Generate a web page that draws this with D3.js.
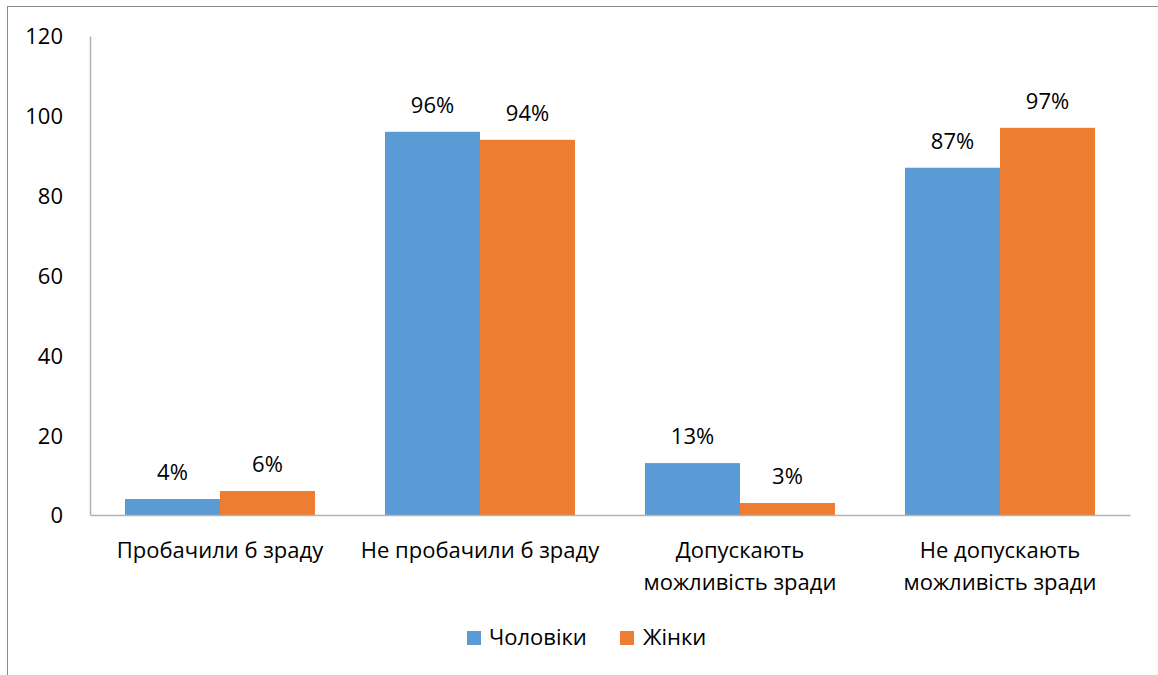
<!DOCTYPE html>
<html><head><meta charset="utf-8">
<script src="https://cdn.jsdelivr.net/npm/d3@7"></script>
<style>body{margin:0;background:#fff}svg{display:block}text{font-family:"Open Sans","Noto Sans",sans-serif;fill:#000}</style>
</head><body>
<script>
const categories = [["Пробачили б зраду"],["Не пробачили б зраду"],["Допускають","можливість зради"],["Не допускають","можливість зради"]];
const seriesNames = ["Чоловіки","Жінки"];
const men = [4, 96, 13, 87];
const women = [6, 94, 3, 97];
const yTicks = [0,20,40,60,80,100,120];
const colors = ["#5B9BD5","#ED7D31"];

(function(){
const W=1158,H=675,FS=22;
const svg=d3.select("body").append("svg").attr("width",W).attr("height",H);
svg.append("rect").attr("x",7.5).attr("y",6.5).attr("width",W+10).attr("height",H+10).attr("fill","none").attr("stroke","#8a8a8a").attr("stroke-width",1);
const pl=90,pr=1130,pt=36,pb=515;
const y=d3.scaleLinear().domain([0,120]).range([pb,pt]);
const x0=d3.scaleBand().domain(d3.range(4)).range([pl,pr]).paddingInner(0.2692).paddingOuter(0.1346);
const x1=d3.scaleBand().domain([0,1]).range([0,x0.bandwidth()]);
const series=[men,women];

const ya=svg.append("g").attr("transform",`translate(${pl},0)`).call(d3.axisLeft(y).tickValues(yTicks).tickSize(0).tickPadding(0));
ya.select(".domain").attr("stroke","#b3b3b3").attr("stroke-width",1.5);
ya.selectAll("text").attr("x",-27).attr("dy","0.36em").attr("font-size",FS).style("font-family",'"Open Sans","Noto Sans",sans-serif').attr("fill","#000");

categories.forEach((c,i)=>{
  series.forEach((s,j)=>{
    svg.append("rect").attr("x",x0(i)+x1(j)).attr("y",y(s[i])).attr("width",x1.bandwidth()).attr("height",y(0)-y(s[i])).attr("fill",colors[j]);
    svg.append("text").attr("x",x0(i)+x1(j)+x1.bandwidth()/2).attr("y",y(s[i])-19).attr("text-anchor","middle").attr("font-size",FS).text(s[i]+"%");
  });
});

const xa=svg.append("g").attr("transform",`translate(0,${pb})`).call(d3.axisBottom(d3.scaleLinear().domain([0,1]).range([pl,pr])).ticks(0).tickSize(0));
xa.select(".domain").attr("stroke","#b3b3b3").attr("stroke-width",1.5);
const xc=d3.scaleBand().domain(d3.range(4)).range([pl,pr]);
categories.forEach((c,i)=>{
  c.forEach((line,k)=>{
    svg.append("text").attr("x",xc(i)+xc.bandwidth()/2).attr("y",558+k*32).attr("text-anchor","middle").attr("font-size",FS).text(line);
  });
});

const leg=[{x:467,tx:489},{x:620,tx:643}];
seriesNames.forEach((n,j)=>{
  svg.append("rect").attr("x",leg[j].x).attr("y",631).attr("width",14).attr("height",14).attr("fill",colors[j]);
  svg.append("text").attr("x",leg[j].tx).attr("y",645).attr("font-size",FS).text(n);
});
})();
</script>
</body></html>
